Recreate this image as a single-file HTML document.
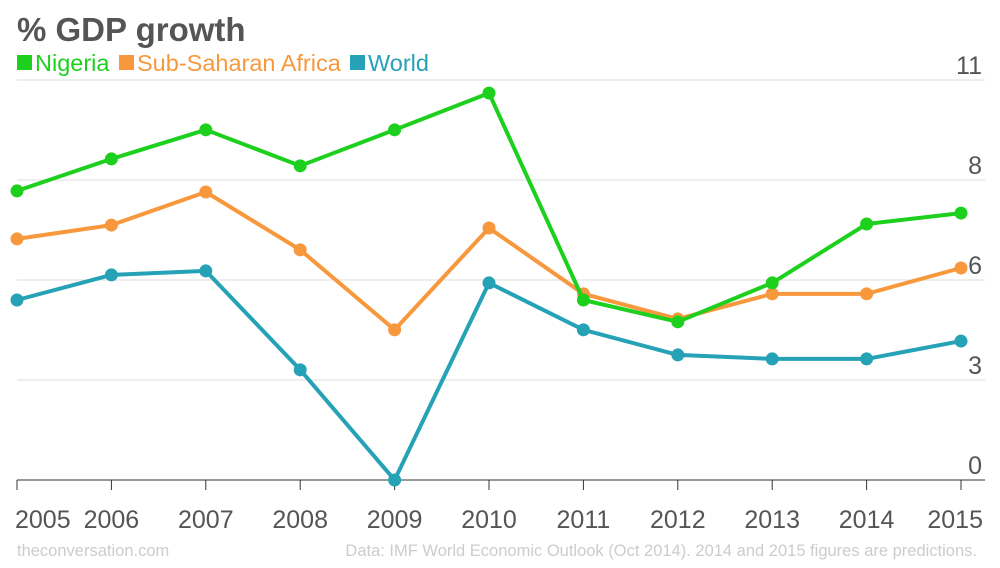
<!DOCTYPE html>
<html><head><meta charset="utf-8"><style>
body{margin:0;background:#fff;font-family:"Liberation Sans",Arial,sans-serif}
svg text{font-family:"Liberation Sans",Arial,sans-serif}
</style></head><body>
<svg id="c" width="1000" height="563">
<text x="17" y="41" font-size="33" font-weight="bold" fill="#555">% GDP growth</text>
<g>
<rect x="17" y="55" width="15" height="15" fill="#1ed01e"/>
<text x="35" y="71" font-size="23.5" fill="#1ed01e">Nigeria</text>
<rect x="119" y="55" width="15" height="15" fill="#f7983c"/>
<text x="137" y="71" font-size="23.5" fill="#f7983c">Sub-Saharan Africa</text>
<rect x="350" y="55" width="15" height="15" fill="#26a2b6"/>
<text x="368" y="71" font-size="23.5" fill="#26a2b6">World</text>
</g>
<g id="grid"></g><g id="series"></g>
<text x="17" y="556" font-size="16.5" fill="#ccc">theconversation.com</text>
<text x="977" y="556" font-size="16.5" fill="#ccc" text-anchor="end">Data: IMF World Economic Outlook (Oct 2014). 2014 and 2015 figures are predictions.</text>
</svg>
<script>
const years=["2005","2006","2007","2008","2009","2010","2011","2012","2013","2014","2015"];
const nigeria=[7.95,8.83,9.63,8.64,9.63,10.64,4.95,4.35,5.42,7.04,7.34];
const ssa=[6.63,7.01,7.92,6.33,4.13,6.93,5.12,4.43,5.12,5.12,5.83];
const world=[4.95,5.64,5.75,3.03,0,5.42,4.13,3.44,3.33,3.33,3.82];
const yTicks=[0,2.75,5.5,8.25,11];
const yTickLabels=["0","3","6","8","11"];
const NS="http://www.w3.org/2000/svg";
const x=i=>17+i*94.4;
const y=v=>480-v*(400/11);
function mk(t,a,p){const e=document.createElementNS(NS,t);for(const k in a)e.setAttribute(k,a[k]);p.appendChild(e);return e;}
const g=document.getElementById('grid');
yTicks.forEach((v,i)=>{
 const l=mk('line',{x1:17,x2:985,y1:y(v),y2:y(v),stroke:v===0?'#333':'#ddd','stroke-width':1},g);
 
 
 const t=mk('text',{x:982,y:y(v)-6,'font-size':25,fill:'#555','text-anchor':'end'},g);
 t.textContent=yTickLabels[i];
 
 
});
years.forEach((yr,i)=>{
 const tk=mk('line',{x1:x(i),x2:x(i),y1:480,y2:490,stroke:'#333'},g);
 
 
 const t=mk('text',{x:i===0?15:(i===10?983:x(i)),y:528,'font-size':25,fill:'#555','text-anchor':i===0?'start':(i===10?'end':'middle')},g);
 t.textContent=yr;
 
 
});
const s=document.getElementById('series');
[[world,'#26a2b6','world'],[ssa,'#f7983c','ssa'],[nigeria,'#1ed01e','nigeria']].forEach(([d,c,n])=>{
 const p=mk('polyline',{points:d.map((v,i)=>x(i)+','+y(v)).join(' '),fill:'none',stroke:c,'stroke-width':4,'stroke-linejoin':'round'},s);
 
 
 d.forEach((v,i)=>{
  const ci=mk('circle',{cx:x(i),cy:y(v),r:6.5,fill:c},s);
  
  
 });
});
</script>
</body></html>
